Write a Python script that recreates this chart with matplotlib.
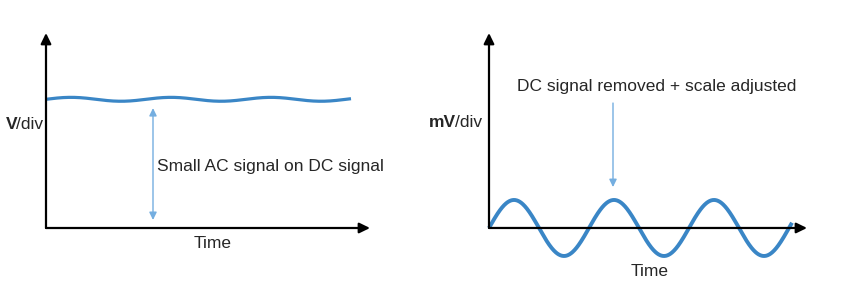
import numpy as np
import matplotlib.pyplot as plt

plt.rcParams['font.family'] = ['Liberation Sans', 'DejaVu Sans']

# ---- data (time in periods, amplitude in divisions) ----
left_axis_len = 3.24
left_ylim = (0, 10)
left_wave_cycles = 3.05
left_dc_level = 6.6
left_ac_amp = 0.1
left_arrow_x = 1.07
left_arrow_span = (6.15, 0.41)
left_label = "Small AC signal on DC signal"

right_axis_len = 3.18
right_ylim = (-1.5, 6.96)
right_wave_cycles = 3.03
right_ac_amp = 1.0
right_arrow_x = 1.24
right_arrow_span = (4.46, 1.46)
right_label = "DC signal removed + scale adjusted"

wave_color = '#3a86c6'
arrow_color = '#74aee0'
text_color = '#262626'
FS = 12.5

fig = plt.figure(figsize=(8.65, 2.91), dpi=100)
W, H = 865, 291

axL = fig.add_axes([46 / W, (H - 228) / H, 324 / W, 195 / H])
axR = fig.add_axes([489 / W, (H - 270) / H, 318 / W, 237 / H])
for ax in (axL, axR):
    ax.axis('off')

axis_arrow = dict(arrowstyle='-|>,head_length=0.45,head_width=0.22', lw=1.6,
                  color='black', shrinkA=0, shrinkB=0, mutation_scale=14)


def draw_axes(ax, xlen, ytop):
    ax.annotate('', xy=(xlen, 0), xytext=(0, 0), arrowprops=axis_arrow, annotation_clip=False)
    ax.annotate('', xy=(0, ytop), xytext=(0, 0), arrowprops=axis_arrow, annotation_clip=False)


def unit_label(ax, x, y, bold, rest):
    r = ax.text(x, y, rest, fontsize=FS, va='center', ha='right', color=text_color)
    fig.canvas.draw()
    bb = r.get_window_extent()
    xl = ax.transData.inverted().transform((bb.x0 + 1.5, 0))[0]
    ax.text(xl, y, bold, fontsize=FS, va='center', ha='right', color=text_color,
            fontweight='bold')


# ---- left panel ----
axL.set_xlim(0, left_axis_len)
axL.set_ylim(*left_ylim)
t = np.linspace(0, left_wave_cycles, 600)
axL.plot(t, left_dc_level + left_ac_amp * np.sin(2 * np.pi * t), color=wave_color, lw=2.3,
         solid_capstyle='butt', clip_on=False)
draw_axes(axL, left_axis_len, left_ylim[1])
axL.annotate('', xy=(left_arrow_x, left_arrow_span[0]), xytext=(left_arrow_x, left_arrow_span[1]),
             arrowprops=dict(arrowstyle='<|-|>,head_length=0.45,head_width=0.22', lw=1.0,
                             color=arrow_color, shrinkA=0, shrinkB=0, mutation_scale=10))
axL.text(left_arrow_x + 0.04, 3.13, left_label, fontsize=FS, va='center', ha='left',
         color=text_color)
axL.text(1.67, -0.82, 'Time', fontsize=FS, va='center', ha='center', color=text_color)

# ---- right panel ----
axR.set_xlim(0, right_axis_len)
axR.set_ylim(*right_ylim)
t2 = np.linspace(0, right_wave_cycles, 600)
axR.plot(t2, right_ac_amp * np.sin(2 * np.pi * t2), color=wave_color, lw=2.8,
         solid_capstyle='butt', clip_on=False)
draw_axes(axR, right_axis_len, right_ylim[1])
axR.annotate('', xy=(right_arrow_x, right_arrow_span[1]), xytext=(right_arrow_x, right_arrow_span[0]),
             arrowprops=dict(arrowstyle='-|>,head_length=0.45,head_width=0.22', lw=1.0,
                             color=arrow_color, shrinkA=0, shrinkB=0, mutation_scale=10))
axR.text(1.68, 5.04, right_label, fontsize=FS, va='center', ha='center', color=text_color)
axR.text(1.61, -1.57, 'Time', fontsize=FS, va='center', ha='center', color=text_color)

unit_label(axL, -0.03, 5.33, 'V', '/div')
unit_label(axR, -0.07, 3.75, 'mV', '/div')

fig.savefig('out.png', dpi=100)
